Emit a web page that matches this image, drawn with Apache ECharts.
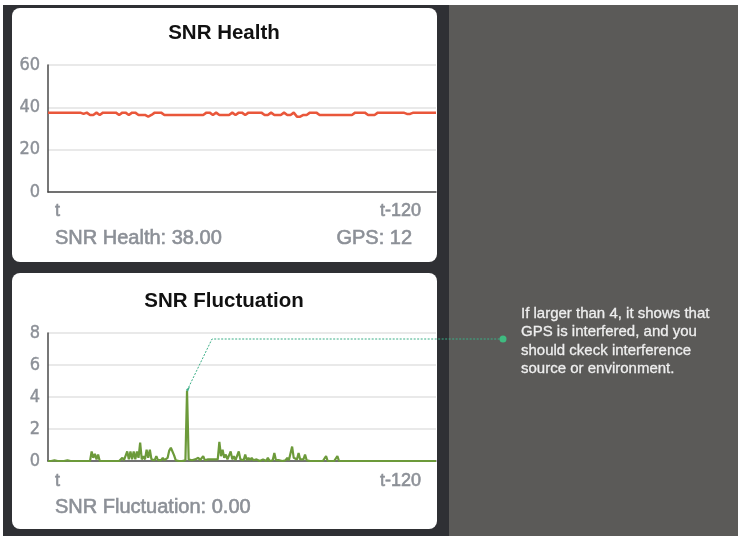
<!DOCTYPE html>
<html><head><meta charset="utf-8">
<script src="https://cdn.jsdelivr.net/npm/echarts@6/dist/echarts.min.js"></script>
<style>html,body{margin:0;padding:0;background:#2f3034;}#c{width:738px;height:536px;}</style>
</head><body><div id="c"></div>
<script>
const healthCategories = Array.from({length:121},(_, i)=>'t-'+i);
const healthValues = [
37.5,37.5,37.5,37.5,37.5,37.5,37.5,37.5,37.5,37.5,
37.5,36.9,37.5,36.4,36.4,37.5,36.4,37.5,37.5,37.5,
37.5,37.5,36.4,37.5,37.5,36.4,37.5,37.5,36.4,36.4,
36.4,35.6,36.4,37.5,37.5,37.5,36.4,36.4,36.4,36.4,
36.4,36.4,36.4,36.4,36.4,36.4,36.4,36.4,36.4,37.5,
37.5,36.4,37.5,36.4,36.4,36.4,36.4,37.5,36.4,37.5,
37.5,36.4,37.5,37.5,37.5,37.5,37.5,36.4,36.4,37.5,
36.4,36.4,36.4,37.5,36.4,36.4,37.5,35.6,35.6,36.4,
36.4,37.5,37.5,37.5,36.4,36.4,36.4,36.4,36.4,36.4,
36.4,36.4,36.4,36.4,36.4,37.5,37.5,37.5,37.5,36.4,
36.4,36.4,37.5,37.5,37.5,37.5,37.5,37.5,37.5,37.5,
37.5,36.9,36.9,37.5,37.5,37.5,37.5,37.5,37.5,37.5,
37.5
];
const fluctCategories = Array.from({length:241},(_, i)=>'t-'+(i/2));
const fluctValues = [
0,0,0,0,0.05,0,0,0,0,0,
0,0,0.05,0,0,0,0,0,0,0,
0,0,0,0.1,0,0,0,0.6,0.2,0.45,
0.1,0.4,0,0,0,0,0,0,0,0,
0,0.1,0,0.1,0,0.05,0.2,0.05,0.05,0.6,
0.1,0.6,0.1,0.6,0.1,0.6,0.2,1.15,0.1,0.3,
0.1,0.7,0.2,0.7,0.1,0.2,0.05,0.3,0.05,0.1,
0.05,0.2,0.05,0.1,0.2,0.65,0.83,0.75,0.35,0.05,
0,0,0,0,0,0.05,4.4,0.1,0.1,0.05,
0.05,0.1,0.05,0.2,0.05,0.05,0.3,0.05,0.05,0.1,
0.05,0.1,0.05,0.1,0.05,0.1,1.2,0.3,0.7,0.2,
0.4,0.1,0.2,0.6,0.1,0.3,0.05,0.1,0.6,0.1,
0.2,0.05,0.4,0.05,0.2,0.05,0.2,0.05,0.05,0.1,
0.05,0,0,0.1,0,0,0.2,0,0,0.05,
0.5,0.05,0.1,0.05,0,0,0.1,0.05,0.2,0.05,
0.1,0.9,0.2,0.3,0.1,0.5,0.1,0.2,0.1,0.4,
0.05,0,0,0,0,0,0,0,0,0,
0,0,0.3,0,0,0,0,0,0,0.3,
0,0,0,0,0,0,0,0.05,0,0,
0,0,0,0,0,0,0,0,0,0,
0,0,0,0,0,0,0,0,0,0,
0,0,0,0,0,0,0,0,0,0,
0,0,0,0,0,0,0,0,0,0,
0,0,0,0,0,0,0,0,0,0,
0
];
const healthTicks = [0, 20, 40, 60];
const fluctTicks = [0, 2, 4, 6, 8];
const xTickLabels = ['t', 't-120'];
const titles = ['SNR Health', 'SNR Fluctuation'];
const healthReadout = 'SNR Health: 38.00';
const gpsReadout = 'GPS: 12';
const fluctReadout = 'SNR Fluctuation: 0.00';
const spikeIndex = 86;
const noteLines = ['If larger than 4, it shows that', 'GPS is interfered, and you', 'should ckeck interference', 'source or environment.'];

const chart = echarts.init(document.getElementById('c'), null, {renderer:'canvas'});
const grey = '#8c9097';
const labelFont = 'DejaVu Sans Condensed, Liberation Sans Narrow, Liberation Sans, sans-serif';
const textFont = 'Liberation Sans, Arial, sans-serif';

function yAxis(idx, max, interval){
  return {
    type:'value', gridIndex: idx, min:0, max:max, interval:interval, z:2,
    axisLine:{show:true, lineStyle:{color:'#4a4a4a', width:1.5}},
    axisTick:{show:false},
    axisLabel:{color:grey, fontFamily:labelFont, fontSize:18, margin:8, textBorderColor:grey, textBorderWidth:0.4},
    splitLine:{show:true, lineStyle:{color:'#e2e2e2', width:1.5}}
  };
}
function xAxis(idx, cats){
  return {
    type:'category', gridIndex: idx, data: cats, boundaryGap:false, z:2,
    axisLine:{show:true, lineStyle:{color:'#4a4a4a', width:1.5}},
    axisTick:{show:false}, axisLabel:{show:false}, splitLine:{show:false}
  };
}
function txt(x, y, s, opts){
  return {type:'text', x:x, y:y, z:20, style:Object.assign({text:s, fill:grey, font:'19px '+textFont, textVerticalAlign:'middle', textAlign:'left'}, opts||{})};
}
const medium = {stroke:grey, lineWidth:0.6};

const baseGraphics = [
  {type:'rect', z:-5, shape:{x:449, y:0, width:289, height:536}, style:{fill:'#5b5a58'}},
  {type:'rect', z:-5, shape:{x:0, y:0, width:449, height:536}, style:{fill:'#2f3034'}},
  {type:'rect', z:-5, shape:{x:0, y:0, width:738, height:5}, style:{fill:'#ffffff'}},
  {type:'rect', z:-5, shape:{x:0, y:0, width:3, height:536}, style:{fill:'#ffffff'}},
  {type:'rect', z:-4, shape:{x:12, y:8, width:425, height:254, r:8}, style:{fill:'#ffffff'}},
  {type:'rect', z:-4, shape:{x:12, y:273, width:425, height:256, r:8}, style:{fill:'#ffffff'}},
  txt(224, 33, titles[0], {fill:'#111', font:'bold 20.5px '+textFont, textAlign:'center'}),
  txt(224, 301, titles[1], {fill:'#111', font:'bold 20.5px '+textFont, textAlign:'center'}),
  txt(55, 211, xTickLabels[0], Object.assign({font:'18px '+textFont}, medium)),
  txt(421, 211, xTickLabels[1], Object.assign({font:'18px '+textFont, textAlign:'right'}, medium)),
  txt(55, 481, xTickLabels[0], Object.assign({font:'18px '+textFont}, medium)),
  txt(421, 481, xTickLabels[1], Object.assign({font:'18px '+textFont, textAlign:'right'}, medium)),
  txt(55, 238, healthReadout, Object.assign({font:'20px '+textFont}, medium)),
  txt(412, 238, gpsReadout, Object.assign({font:'20px '+textFont, textAlign:'right'}, medium)),
  txt(55, 507, fluctReadout, Object.assign({font:'20px '+textFont}, medium))
];
noteLines.forEach((s, i) => baseGraphics.push(txt(521, 314 + i*18.3, s, {fill:'#eeeeee', font:'15px '+textFont, stroke:'#eeeeee', lineWidth:0.3})));

chart.setOption({
  animation:false,
  backgroundColor:'#2f3034',
  grid:[
    {left:48, top:65, width:388, height:127},
    {left:48, top:333, width:388, height:128}
  ],
  xAxis:[xAxis(0, healthCategories), xAxis(1, fluctCategories)],
  yAxis:[yAxis(0, 60, 20), yAxis(1, 8, 2)],
  series:[
    {type:'line', xAxisIndex:0, yAxisIndex:0, data:healthValues, showSymbol:false, z:3,
     lineStyle:{color:'#e9573b', width:2.5}, itemStyle:{color:'#e9573b'}},
    {type:'line', xAxisIndex:1, yAxisIndex:1, data:fluctValues, showSymbol:false, z:3,
     lineStyle:{color:'#6c9a3a', width:2.2}, itemStyle:{color:'#6c9a3a'}}
  ],
  graphic: baseGraphics
});

const p = chart.convertToPixel({xAxisIndex:1, yAxisIndex:1}, [spikeIndex, fluctValues[spikeIndex]]);
const elbow = [212, 339], end = [503, 339];
chart.setOption({
  graphic: baseGraphics.concat([
    {type:'polyline', z:25, shape:{points:[p, elbow, end]}, style:{stroke:'#3aae86', lineWidth:1, lineDash:[2,1.5], fill:null}},
    {type:'polygon', z:25, shape:{points:[[p[0]-1, p[1]-1], [p[0]+3, p[1]-4], [p[0]+1, p[1]+1]]}, style:{fill:'#3aae86'}},
    {type:'circle', z:25, shape:{cx:end[0], cy:end[1], r:3.5}, style:{fill:'#3fbb80'}}
  ])
}, {replaceMerge:['graphic']});
</script></body></html>
